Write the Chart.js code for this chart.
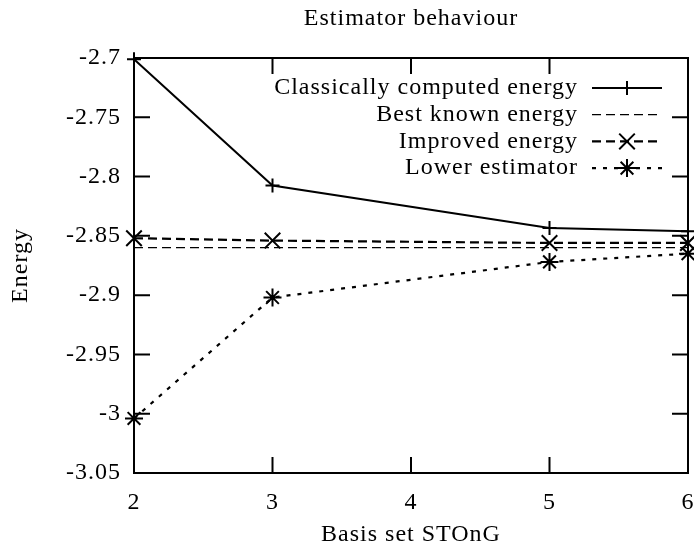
<!DOCTYPE html>
<html>
<head>
<meta charset="utf-8">
<title>Estimator behaviour</title>
<script src="https://cdn.jsdelivr.net/npm/chart.js@4.4.1/dist/chart.umd.min.js"></script>
<style>
  html, body { margin: 0; padding: 0; background: #fff; }
  canvas { display: block; }
</style>
</head>
<body>
<canvas id="chart" width="694" height="550"></canvas>
<script>
// basis set size n of STO-nG, and the energies
var basisSizes = [2, 3, 5, 6];
var classicalEnergy = [-2.701, -2.8075, -2.8433, -2.8462];
var bestKnownEnergy = [-2.86, -2.86, -2.86, -2.86];
var improvedEnergy = [-2.852, -2.854, -2.856, -2.856];
var lowerEstimator = [-3.004, -2.902, -2.872, -2.865];

var seriesLabels = ['Classically computed energy', 'Best known energy', 'Improved energy', 'Lower estimator'];

var xTicks = [2, 3, 4, 5, 6];
var yMin = -3.05, yMax = -2.7, yStep = 0.05;

function points(values) {
  return basisSizes.map(function (n, i) { return { x: n, y: values[i] }; });
}

var SPACING = '1px';
var TICK = 16;

// gnuplot-like text spacing
var spacingPlugin = {
  id: 'spacing',
  beforeLayout: function (chart) { chart.ctx.letterSpacing = SPACING; },
  beforeDraw: function (chart) { chart.ctx.letterSpacing = SPACING; }
};

// closed frame with inward ticks on all four sides
var framePlugin = {
  id: 'frame',
  beforeDatasetsDraw: function (chart) {
    var ctx = chart.ctx, a = chart.chartArea;
    ctx.save();
    ctx.strokeStyle = '#000';
    ctx.lineWidth = 2;
    ctx.strokeRect(a.left, a.top, a.right - a.left, a.bottom - a.top);
    ctx.beginPath();
    chart.scales.x.ticks.forEach(function (t) {
      var px = chart.scales.x.getPixelForValue(t.value);
      ctx.moveTo(px, a.bottom); ctx.lineTo(px, a.bottom - TICK);
      ctx.moveTo(px, a.top); ctx.lineTo(px, a.top + TICK);
    });
    chart.scales.y.ticks.forEach(function (t) {
      var py = chart.scales.y.getPixelForValue(t.value);
      ctx.moveTo(a.left, py); ctx.lineTo(a.left + TICK, py);
      ctx.moveTo(a.right, py); ctx.lineTo(a.right - TICK, py);
    });
    ctx.stroke();
    ctx.restore();
  }
};

function drawMarker(ctx, style, x, y, r) {
  ctx.beginPath();
  if (style === 'cross' || style === 'star') {
    ctx.moveTo(x - r, y); ctx.lineTo(x + r, y);
    ctx.moveTo(x, y - r); ctx.lineTo(x, y + r);
  }
  if (style === 'crossRot' || style === 'star') {
    var d = r * Math.SQRT1_2;
    ctx.moveTo(x - d, y - d); ctx.lineTo(x + d, y + d);
    ctx.moveTo(x - d, y + d); ctx.lineTo(x + d, y - d);
  }
  ctx.stroke();
}

// key in the top right corner: text right aligned, sample to the right
var keyPlugin = {
  id: 'key',
  afterDraw: function (chart) {
    var ctx = chart.ctx, a = chart.chartArea;
    var textRight = a.right - 110, x0 = a.right - 96, x1 = a.right - 26;
    ctx.save();
    ctx.font = '24px "Liberation Serif"';
    ctx.letterSpacing = SPACING;
    ctx.textAlign = 'right';
    ctx.textBaseline = 'middle';
    ctx.fillStyle = '#000';
    chart.data.datasets.forEach(function (ds, i) {
      var y = a.top + 30 + i * 26.7;
      ctx.fillText(ds.label, textRight, y);
      ctx.strokeStyle = '#000';
      ctx.lineWidth = ds.borderWidth;
      ctx.setLineDash(ds.borderDash || []);
      ctx.beginPath();
      ctx.moveTo(x0, y); ctx.lineTo(x1, y);
      ctx.stroke();
      ctx.setLineDash([]);
      if (ds.pointRadius > 0) {
        ctx.lineWidth = ds.pointBorderWidth;
        drawMarker(ctx, ds.pointStyle, (x0 + x1) / 2, y, ds.pointRadius);
      }
    });
    ctx.restore();
  }
};

Chart.defaults.font.family = '"Liberation Serif", serif';
Chart.defaults.font.size = 24;
Chart.defaults.color = '#000';

new Chart(document.getElementById('chart'), {
  type: 'line',
  data: {
    datasets: [
      {
        label: seriesLabels[0],
        data: points(classicalEnergy),
        borderColor: '#000', borderWidth: 2,
        pointStyle: 'cross', pointRadius: 7, pointBorderWidth: 2,
        pointBorderColor: '#000', clip: false
      },
      {
        label: seriesLabels[1],
        data: points(bestKnownEnergy),
        borderColor: '#000', borderWidth: 1.3, borderDash: [9, 5],
        pointRadius: 0, clip: false
      },
      {
        label: seriesLabels[2],
        data: points(improvedEnergy),
        borderColor: '#000', borderWidth: 2.2, borderDash: [9, 5],
        pointStyle: 'crossRot', pointRadius: 11, pointBorderWidth: 2,
        pointBorderColor: '#000', clip: false
      },
      {
        label: seriesLabels[3],
        data: points(lowerEstimator),
        borderColor: '#000', borderWidth: 2.2, borderDash: [4, 7],
        pointStyle: 'star', pointRadius: 9, pointBorderWidth: 2,
        pointBorderColor: '#000', clip: false
      }
    ]
  },
  options: {
    responsive: false,
    animation: false,
    devicePixelRatio: 1,
    layout: { autoPadding: false, padding: { left: 0, right: 6, top: 0, bottom: 0 } },
    elements: { line: { tension: 0, fill: false } },
    plugins: {
      legend: { display: false },
      tooltip: { enabled: false },
      title: {
        display: true,
        text: 'Estimator behaviour',
        fullSize: false,
        font: { size: 24, weight: 'normal' },
        padding: { top: 4, bottom: 25.2 }
      }
    },
    scales: {
      x: {
        type: 'linear',
        min: 2, max: 6,
        afterBuildTicks: function (scale) {
          scale.ticks = xTicks.map(function (v) { return { value: v }; });
        },
        afterFit: function (scale) {
          scale.height = 77;
          scale.paddingLeft = 0;
          scale.paddingRight = 0;
        },
        grid: { display: false, drawTicks: false },
        border: { display: false },
        ticks: { padding: 15, maxRotation: 0 },
        title: { display: true, text: 'Basis set STOnG', padding: { top: 0, bottom: 1 } }
      },
      y: {
        type: 'linear',
        min: yMin, max: yMax,
        afterFit: function (scale) {
          scale.width = 134;
          scale.paddingTop = 0;
          scale.paddingBottom = 0;
        },
        grid: { display: false, drawTicks: false },
        border: { display: false },
        ticks: {
          stepSize: yStep,
          padding: 13,
          callback: function (v) { return String(Number(v.toFixed(2))); }
        },
        title: { display: true, text: 'Energy', padding: { top: 6, bottom: 0 } }
      }
    }
  },
  plugins: [spacingPlugin, framePlugin, keyPlugin]
});
</script>
</body>
</html>
